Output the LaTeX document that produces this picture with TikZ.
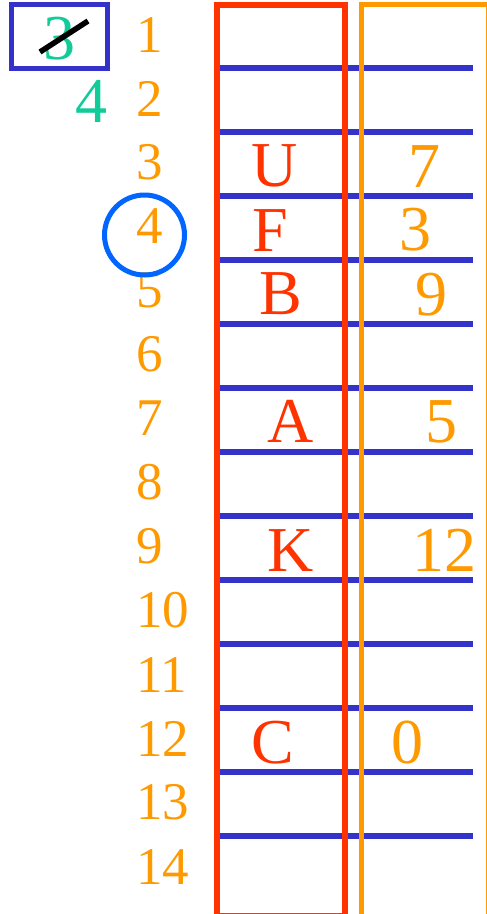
\documentclass[tikz,border=0pt]{standalone}
\usepackage{fontspec}
\setmainfont{Liberation Serif}
\definecolor{cred}{HTML}{FF3300}
\definecolor{corange}{HTML}{FF9900}
\definecolor{cblue}{HTML}{3333CC}
\definecolor{ccirc}{HTML}{0066FF}
\definecolor{cteal}{HTML}{11CC99}
\tikzset{
  rowlab/.style={anchor=west,inner sep=0pt,text=corange,font=\fontsize{53}{53}\selectfont},
  key/.style={inner sep=0pt,text=cred,font=\fontsize{64}{64}\selectfont},
  val/.style={inner sep=0pt,text=corange,font=\fontsize{64}{64}\selectfont},
  tealtxt/.style={inner sep=0pt,text=cteal,font=\fontsize{64}{64}\selectfont},
  sep/.style={draw=cblue,line width=6pt},
}
\begin{document}
\begin{tikzpicture}[x=1pt,y=-1pt]
\useasboundingbox (0,0) rectangle (487,914);
% separators
\foreach \i in {0,...,12}{
  \draw[sep] (217,{68+64*\i}) -- (473,{68+64*\i});
}
% columns
\draw[cred,line width=6pt] (217,4.5) rectangle (345,916);
\draw[corange,line width=5pt] (361,4.5) rectangle (488.5,916);
% row labels
\foreach \k in {1,...,14}{
  \node[rowlab] (r\k) at (136,{34.5+64*(\k-1)}) {\k};
}
% keys
\node[key] (kU) at (275,166) {U};
\node[key] (kF) at (270,230.5) {F};
\node[key] (kB) at (281,294) {B};
\node[key] (kA) at (291,421.5) {A};
\node[key] (kK) at (291,551) {K};
\node[key] (kC) at (273,743) {C};
% values
\node[val] (v7) at (424,167) {7};
\node[val] (v3) at (415,230) {3};
\node[val] (v9) at (431,295) {9};
\node[val] (v5) at (441,422) {5};
\node[val] (v12) at (444,550) {12};
\node[val] (v0) at (407,743) {0};
% top-left marker
\node[draw=cblue,line width=5pt,minimum width=96pt,minimum height=64pt,inner sep=0pt] (box) at (59.5,36) {};
\node[tealtxt] (old) at (59.5,39) {3};
\draw[black,line width=5.5pt] (40,52) -- (88,21);
\node[tealtxt] (new) at (91.5,101.5) {4};
% circle
\node[draw=ccirc,line width=5pt,circle,minimum size=80pt,inner sep=0pt] (mark) at (144.5,235) {};
\end{tikzpicture}
\end{document}
